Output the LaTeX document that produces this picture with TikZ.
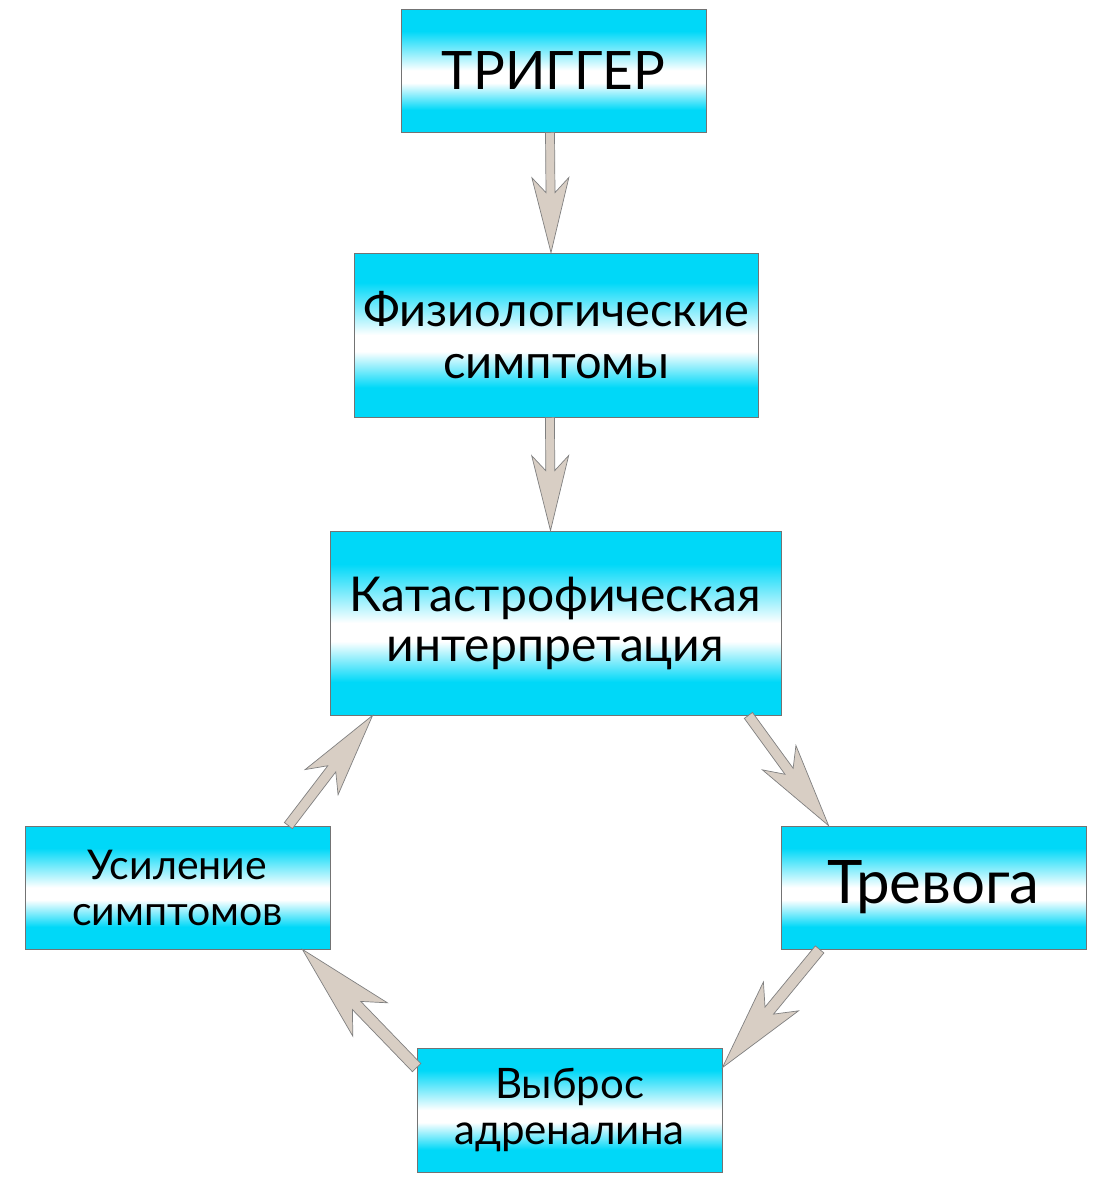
\documentclass[tikz,border=0pt]{standalone}
\usepackage{fontspec}
\setmainfont{Lato}
\usetikzlibrary{calc}

\definecolor{boxcyan}{RGB}{0,216,248}
\definecolor{arrowfill}{RGB}{216,206,196}
\pgfdeclareverticalshading{boxshade}{100bp}{color(0bp)=(boxcyan); color(34bp)=(boxcyan);
  color(45bp)=(white); color(50bp)=(white); color(66bp)=(boxcyan); color(100bp)=(boxcyan)}

\tikzset{
  box/.style={draw=black!55, line width=0.8pt, shade, shading=boxshade,
    inner sep=0pt, align=center, text=black},
  flow/.style={draw=black!50, fill=arrowfill, line width=0.7pt, line join=miter}
}

% freccia a blocco da #2 a #3, #1 = scala della punta
\newcommand{\flowarrow}[3][1]{%
  \draw[flow] let \p1=(#2), \p2=(#3), \n1={atan2(\y2-\y1,\x2-\x1)},
    \n2={veclen(\x2-\x1,\y2-\y1)} in [shift={(\p1)}, rotate=\n1]
    (0pt,4.5pt*#1) -- (\n2-60pt*#1,4.5pt*#1) -- (\n2-75pt*#1,18.5pt*#1) -- (\n2,0pt)
    -- (\n2-75pt*#1,-18.5pt*#1) -- (\n2-60pt*#1,-4.5pt*#1) -- (0pt,-4.5pt*#1) -- cycle;}

\begin{document}
\begin{tikzpicture}[x=1pt,y=-1pt]
            \useasboundingbox[fill=white] (0,0) rectangle (1094,1200);
            %blocchi
            \node[box, minimum width=305pt, minimum height=123pt,
                font={\fontsize{53}{60}\selectfont}] (trig) at (553.5,70.5) {ТРИГГЕР};
            \node[box, minimum width=404pt, minimum height=164pt,
                font={\fontsize{47}{52}\selectfont}] (phys) at (556,335) {Физиологические\\симптомы};
            \node[box, minimum width=451pt, minimum height=184pt,
                font={\fontsize{48}{50}\selectfont}] (kat) at (555.5,623) {Катастрофическая\\интерпретация};
            \node[box, minimum width=305pt, minimum height=123pt,
                font={\fontsize{60}{66}\selectfont}] (trev) at (933.5,887.5) {Тревога};
            \node[box, minimum width=305pt, minimum height=124pt,
                font={\fontsize{42}{46}\selectfont}] (adr) at (569.5,1110) {Выброс\\адреналина};
            \node[box, minimum width=305pt, minimum height=123pt,
                font={\fontsize{41}{46}\selectfont}] (usil) at (177.5,887.5) {Усиление\\симптомов};
            %frecce
            \flowarrow{[xshift=-3.5pt]trig.south}{[xshift=-5pt]phys.north}
            \flowarrow{[xshift=-6pt]phys.south}{[xshift=-5pt]kat.north}
            \flowarrow[1.12]{[xshift=-33pt]kat.south east}{[xshift=48pt]trev.north west}
            \flowarrow[1.23]{[xshift=39pt]trev.south west}{[yshift=-20pt]adr.north east}
            \flowarrow[1.3]{[yshift=-20pt]adr.north west}{[xshift=-28pt]usil.south east}
            \flowarrow[1.12]{[xshift=-42pt]usil.north east}{[xshift=43pt]kat.south west}
        \end{tikzpicture}
\end{document}
